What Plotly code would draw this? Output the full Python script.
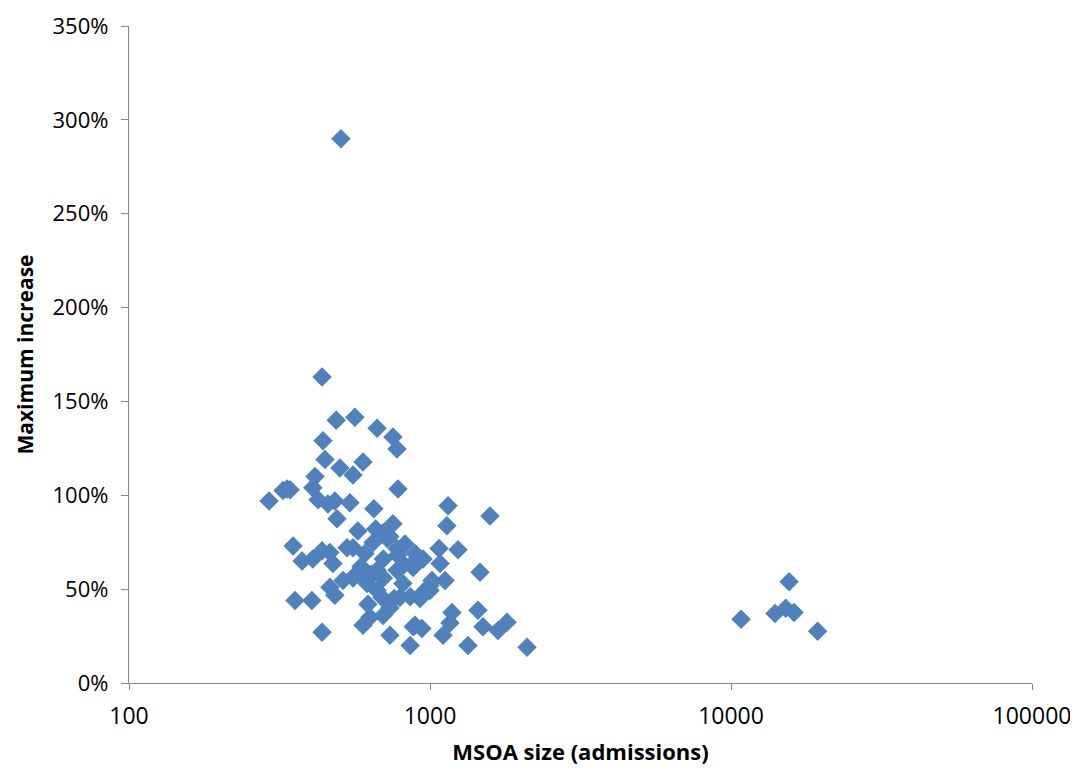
import plotly.graph_objects as go

# MSOA size (admissions) and maximum increase (fraction)
msoa_size = [
    506, 438, 488, 563, 667, 753, 777, 441, 448, 502, 599, 555, 415, 408,
    335, 325, 343, 292, 425, 458, 483, 542, 783, 491, 651, 1148, 1582, 1138,
    576, 753, 698, 351, 376, 408, 438, 465, 476, 555, 608, 647, 720, 777,
    826, 892, 948, 1072, 1239, 1080, 879, 777, 667, 555, 514, 465, 483, 618,
    667, 813, 1016, 1122, 1000, 927, 794, 736, 622, 693, 632, 698, 356, 405,
    599, 438, 736, 859, 892, 940, 1105, 1183, 1165, 1337, 1443, 1500, 1682,
    1803, 2100, 1466, 530, 880, 945, 860, 700, 640, 590, 760, 820, 735,
    660, 560, 620, 780, 700, 1000, 905,
    10800, 14000, 15200, 16200, 15600, 19400,
]
max_increase = [
    2.90, 1.63, 1.40, 1.416, 1.357, 1.31, 1.246, 1.29, 1.19, 1.145, 1.177, 1.108, 1.10, 1.04,
    1.034, 1.025, 1.03, 0.97, 0.976, 0.954, 0.97, 0.96, 1.034, 0.875, 0.928, 0.944, 0.89, 0.838,
    0.81, 0.848, 0.80, 0.73, 0.65, 0.66, 0.705, 0.695, 0.636, 0.72, 0.69, 0.748, 0.77, 0.716,
    0.74, 0.69, 0.66, 0.716, 0.71, 0.636, 0.615, 0.60, 0.60, 0.56, 0.546, 0.51, 0.467, 0.53,
    0.493, 0.53, 0.546, 0.546, 0.493, 0.45, 0.456, 0.40, 0.42, 0.456, 0.35, 0.36, 0.44, 0.44,
    0.308, 0.27, 0.255, 0.20, 0.308, 0.29, 0.255, 0.376, 0.32, 0.20, 0.387, 0.30, 0.28,
    0.324, 0.19, 0.59, 0.72, 0.30, 0.48, 0.46, 0.66, 0.58, 0.62, 0.45, 0.63, 0.78,
    0.82, 0.57, 0.55, 0.68, 0.56, 0.52, 0.66,
    0.34, 0.37, 0.398, 0.376, 0.54, 0.276,
]

x_ticks = [100, 1000, 10000, 100000]

fig = go.Figure()
fig.add_trace(go.Scatter(
    x=msoa_size, y=max_increase, mode="markers",
    marker=dict(symbol="diamond", size=15, color="#4F81BD",
                line=dict(width=0)),
    showlegend=False,
))

axis_line = "#868686"
fig.update_layout(
    width=1078, height=772,
    margin=dict(l=121, r=54, t=18, b=97),
    paper_bgcolor="white", plot_bgcolor="white",
    font=dict(family="Open Sans, sans-serif", size=22, color="black"),
    xaxis=dict(
        type="log", range=[2, 5],
        tickvals=x_ticks, ticktext=[str(v) for v in x_ticks],
        showgrid=False, zeroline=False,
        showline=True, linecolor=axis_line, linewidth=1.3,
        ticks="outside", ticklen=6, tickcolor=axis_line,
        ticklabelstandoff=6, ticklabeloverflow="allow",
        tickfont=dict(size=23),
        title=dict(text="<b>MSOA size (admissions)</b>", standoff=14,
                   font=dict(size=22)),
        automargin=False,
    ),
    yaxis=dict(
        range=[0, 3.5], dtick=0.5, tickformat=".0%",
        showgrid=False, zeroline=False,
        showline=True, linecolor=axis_line, linewidth=1.3,
        ticks="outside", ticklen=7, tickcolor=axis_line,
        ticklabelstandoff=8, ticklabeloverflow="allow",
        tickfont=dict(size=22),
        title=dict(text="<b>Maximum increase</b>", standoff=13,
                   font=dict(size=21)),
        automargin=False,
    ),
)

fig.write_html("out.html")
